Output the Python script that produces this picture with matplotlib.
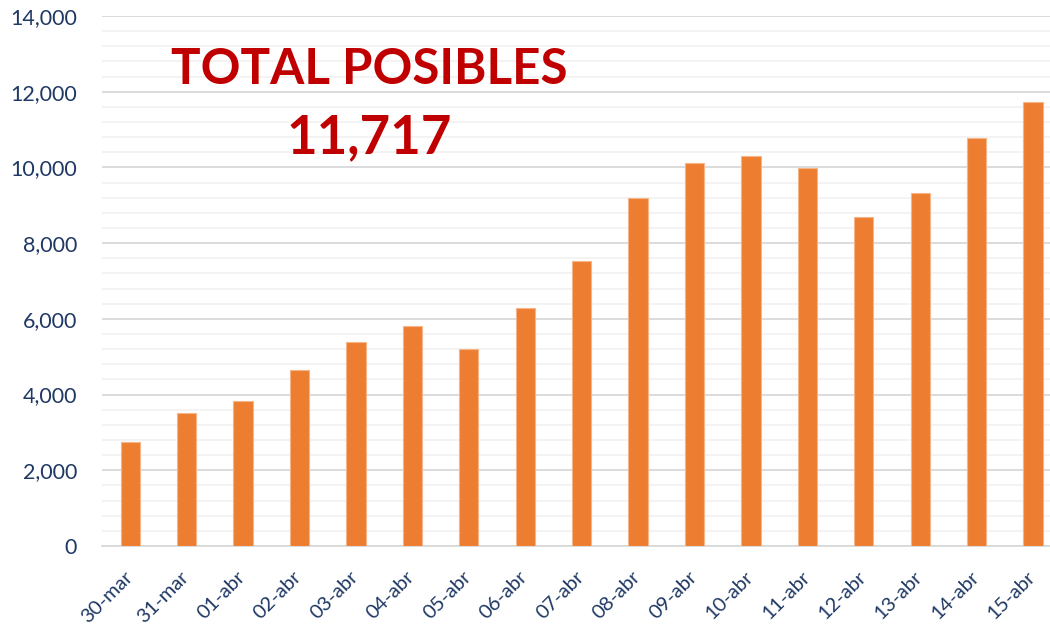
import numpy as np
import matplotlib.pyplot as plt
import matplotlib.transforms as mtransforms
from matplotlib.ticker import MultipleLocator, FuncFormatter

dates = ["30-mar", "31-mar", "01-abr", "02-abr", "03-abr", "04-abr", "05-abr",
         "06-abr", "07-abr", "08-abr", "09-abr", "10-abr", "11-abr", "12-abr",
         "13-abr", "14-abr", "15-abr"]
posibles = [2750, 3510, 3830, 4650, 5390, 5810, 5200, 6290, 7520, 9185,
            10110, 10300, 9975, 8690, 9330, 10780, 11717]

title_line1 = "TOTAL POSIBLES"
title_line2 = "11,717"

plt.rcParams['font.family'] = ['Lato', 'DejaVu Sans']
navy = '#1F3864'

fig = plt.figure(figsize=(10.5, 6.3), dpi=100)
ax = fig.add_axes([102 / 1050, 84 / 630, 948 / 1050, 530 / 630])

x = np.arange(len(dates))
ax.bar(x, posibles, width=0.342, color='#ED7D31', edgecolor='#F6B48A',
       linewidth=0.8, zorder=3)

ax.set_xlim(-0.5, 16.3)
ax.set_ylim(0, 14000)
ax.yaxis.set_major_locator(MultipleLocator(2000))
ax.yaxis.set_minor_locator(MultipleLocator(400))
ax.yaxis.set_major_formatter(FuncFormatter(lambda v, p: f"{int(v):,}"))
ax.grid(which='major', axis='y', color='#D9D9D9', linewidth=1.3, zorder=0)
ax.grid(which='minor', axis='y', color='#F2F2F2', linewidth=1.3, zorder=0)

for s in ['top', 'right', 'left']:
    ax.spines[s].set_visible(False)
ax.spines['bottom'].set_color('#D9D9D9')
ax.spines['bottom'].set_linewidth(1.3)

ax.set_xticks(x)
ax.set_xticklabels(dates, rotation=45, ha='right')
ax.tick_params(axis='x', length=0, pad=16, labelsize=14.5, labelcolor=navy)
ax.tick_params(axis='y', which='both', length=0, pad=18, labelsize=15.5,
               labelcolor=navy)

# nudge x labels right so their upper end sits just past the bar centre
offset = mtransforms.ScaledTranslation(4 / 72, 0, fig.dpi_scale_trans)
for lbl in ax.get_xticklabels():
    lbl.set_transform(lbl.get_transform() + offset)

fig.text(369 / 1050, 1 - 69 / 630, title_line1, ha='center', va='center',
         fontsize=35.5, fontweight='bold', color='#C00000')
fig.text(369 / 1050, 1 - 138 / 630, title_line2, ha='center', va='center',
         fontsize=38, fontweight='bold', color='#C00000')

fig.savefig("out.png", dpi=100)
